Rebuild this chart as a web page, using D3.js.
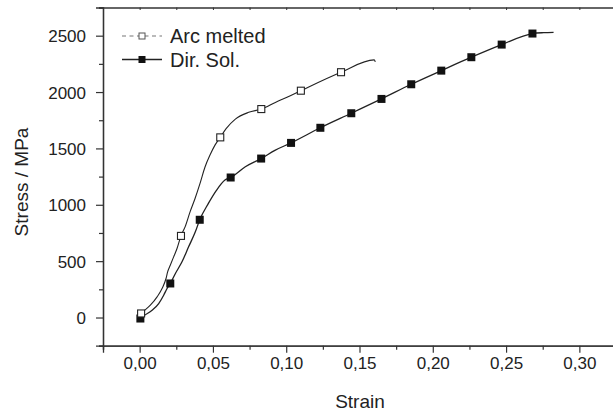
<!DOCTYPE html>
<html>
<head>
<meta charset="utf-8">
<script src="https://cdn.jsdelivr.net/npm/d3@7"></script>
<style>
  html, body { margin: 0; padding: 0; background: #fff; }
  svg { display: block; font-family: "Liberation Sans", Arial, Helvetica, sans-serif; }
</style>
</head>
<body>
<svg id="chart" width="613" height="414"></svg>
<script>
// Stress–strain curves (strain, stress in MPa)
const arcStrain = [0.001, 0.0027, 0.0073, 0.0119, 0.0153, 0.018, 0.0191, 0.0209, 0.0232, 0.0255, 0.0282,
  0.031, 0.0344, 0.0378, 0.0412, 0.0446, 0.048, 0.0514, 0.055,
  0.059, 0.0653, 0.0744, 0.083, 0.0926, 0.1028, 0.110, 0.1374, 0.160, 0.1608];
const arcStress = [36, 56, 109, 183, 257, 346, 405, 464, 538, 612, 724,
  804, 937, 1056, 1190, 1335, 1441, 1529, 1598,
  1675, 1760, 1820, 1849, 1908, 1967, 2012, 2176, 2285, 2268];

const dirStrain = [0.0005, 0.0027, 0.0085, 0.013, 0.0164, 0.0187, 0.0209, 0.0244, 0.0289, 0.0334, 0.038, 0.041,
  0.0469, 0.0525, 0.0582, 0.0621, 0.0721, 0.0829, 0.0926, 0.1033,
  0.1233, 0.1444, 0.165, 0.1853, 0.2058, 0.2263, 0.247, 0.268, 0.2756, 0.2824];
const dirStress = [-9, 14, 65, 124, 198, 257, 302, 391, 494, 627, 760, 867,
  1012, 1130, 1219, 1242, 1337, 1410, 1485, 1549,
  1683, 1812, 1939, 2069, 2190, 2309, 2421, 2519, 2527, 2530];

// Marker positions along each curve
const arcMarkStrain = [0.001, 0.0282, 0.055, 0.083, 0.110, 0.1374];
const arcMarkStress = [36, 724, 1598, 1849, 2012, 2176];
const dirMarkStrain = [0.0005, 0.0209, 0.041, 0.0621, 0.0829, 0.1033, 0.1233, 0.1444, 0.165, 0.1853, 0.2058, 0.2263, 0.247, 0.268];
const dirMarkStress = [-9, 302, 867, 1242, 1410, 1549, 1683, 1812, 1939, 2069, 2190, 2309, 2421, 2519];

const xTicks = [0, 0.05, 0.10, 0.15, 0.20, 0.25, 0.30];
const xTickLabels = ["0,00", "0,05", "0,10", "0,15", "0,20", "0,25", "0,30"];
const yTicks = [0, 500, 1000, 1500, 2000, 2500];
const yTickLabels = ["0", "500", "1000", "1500", "2000", "2500"];
const legendNames = ["Arc melted", "Dir. Sol."];

const svg = d3.select("#chart");
const ink = "#222";
const axisInk = "#333";

const x = d3.scaleLinear().domain([-0.025, 0.325]).range([103, 616]);
const y = d3.scaleLinear().domain([-250, 2750]).range([345.7, 7.5]);

const xMinor = d3.range(-0.025, 0.33, 0.05);
const yMinor = d3.range(-250, 2760, 500);

// bottom axis
const gx = svg.append("g").attr("transform", `translate(0,${y.range()[0]})`);
gx.call(d3.axisBottom(x).tickValues(xMinor).tickSize(4).tickFormat(""));
gx.call(g => g.append("g").call(d3.axisBottom(x).tickValues(xTicks).tickSize(7)
  .tickFormat((d, i) => xTickLabels[i])));
gx.selectAll("path.domain").attr("stroke", axisInk).attr("stroke-width", 1.3);
gx.selectAll("line").attr("stroke", axisInk).attr("stroke-width", 1.2);
gx.selectAll("text").attr("font-size", 17).attr("fill", ink).attr("dy", "0.71em").attr("y", 11);

// left axis
const gy = svg.append("g").attr("transform", `translate(${x.range()[0]},0)`);
gy.call(d3.axisLeft(y).tickValues(yMinor).tickSize(4).tickFormat(""));
gy.call(g => g.append("g").call(d3.axisLeft(y).tickValues(yTicks).tickSize(7)
  .tickFormat((d, i) => yTickLabels[i])));
gy.selectAll("path.domain").attr("stroke", axisInk).attr("stroke-width", 1.3);
gy.selectAll("line").attr("stroke", axisInk).attr("stroke-width", 1.2);
gy.selectAll("text").attr("font-size", 17).attr("fill", ink).attr("x", -17).attr("dy", "0.35em");

// top frame with inner ticks
const gt = svg.append("g").attr("transform", `translate(0,${y.range()[1]})`);
gt.call(d3.axisBottom(x).tickValues(d3.range(0, 0.33, 0.025)).tickSize(2.5).tickSizeOuter(0).tickFormat(""));
gt.selectAll("path.domain").attr("stroke", axisInk).attr("stroke-width", 1.3);
gt.selectAll("line").attr("stroke", axisInk).attr("stroke-width", 1);

// axis titles
svg.append("text").attr("x", 360).attr("y", 408).attr("text-anchor", "middle")
  .attr("font-size", 19).attr("fill", ink).text("Strain");
svg.append("text").attr("transform", "translate(28,182) rotate(-90)").attr("text-anchor", "middle")
  .attr("font-size", 19).attr("fill", ink).text("Stress / MPa");

// curves
const line = d3.line().x(d => x(d[0])).y(d => y(d[1])).curve(d3.curveMonotoneX);
const arcPts = arcStrain.map((s, i) => [s, arcStress[i]]);
const dirPts = dirStrain.map((s, i) => [s, dirStress[i]]);

svg.append("path").datum(dirPts).attr("d", line)
  .attr("fill", "none").attr("stroke", ink).attr("stroke-width", 1.3);
svg.append("path").datum(arcPts).attr("d", line)
  .attr("fill", "none").attr("stroke", ink).attr("stroke-width", 1.1);

const ms = 8;
svg.append("g").selectAll("rect").data(dirMarkStrain.map((s, i) => [s, dirMarkStress[i]]))
  .join("rect")
  .attr("x", d => x(d[0]) - ms / 2).attr("y", d => y(d[1]) - ms / 2)
  .attr("width", ms).attr("height", ms).attr("fill", "#111");
svg.append("g").selectAll("rect").data(arcMarkStrain.map((s, i) => [s, arcMarkStress[i]]))
  .join("rect")
  .attr("x", d => x(d[0]) - (ms - 1) / 2).attr("y", d => y(d[1]) - (ms - 1) / 2)
  .attr("width", ms - 1).attr("height", ms - 1)
  .attr("fill", "#fff").attr("stroke", ink).attr("stroke-width", 1.1);

// legend
const lg = svg.append("g");
lg.append("line").attr("x1", 122).attr("x2", 162).attr("y1", 36).attr("y2", 36)
  .attr("stroke", "#777").attr("stroke-width", 1.1).attr("stroke-dasharray", "4,3.5");
lg.append("rect").attr("x", 139).attr("y", 33).attr("width", 6).attr("height", 6)
  .attr("fill", "#fff").attr("stroke", "#555").attr("stroke-width", 1);
lg.append("text").attr("x", 170).attr("y", 43).attr("font-size", 20).attr("fill", ink).text(legendNames[0]);
lg.append("line").attr("x1", 122).attr("x2", 162).attr("y1", 59.5).attr("y2", 59.5)
  .attr("stroke", ink).attr("stroke-width", 1.3);
lg.append("rect").attr("x", 138.5).attr("y", 56).attr("width", 7).attr("height", 7).attr("fill", "#111");
lg.append("text").attr("x", 170).attr("y", 66.5).attr("font-size", 20).attr("fill", ink).text(legendNames[1]);
</script>
</body>
</html>
